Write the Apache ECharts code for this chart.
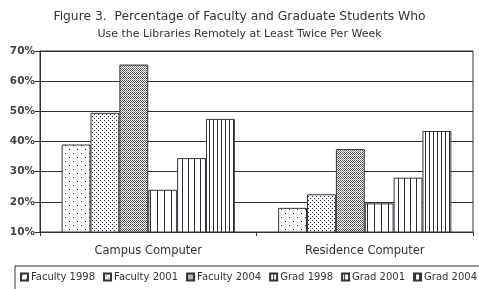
<!DOCTYPE html>
<html>
<head>
<meta charset="utf-8">
<script src="https://cdn.jsdelivr.net/npm/echarts@6/dist/echarts.min.js"></script>
<style>html,body{margin:0;padding:0;background:#fff}#c{width:479px;height:289px}</style>
</head>
<body>
<div id="c"></div>
<script>
const categories = ['Campus Computer', 'Residence Computer'];
const seriesNames = ['Faculty 1998', 'Faculty 2001', 'Faculty 2004', 'Grad 1998', 'Grad 2001', 'Grad 2004'];
const faculty1998 = [39, 18];
const faculty2001 = [49.5, 22.5];
const faculty2004 = [65.5, 37.5];
const grad1998 = [24, 19.5];
const grad2001 = [34.5, 28];
const grad2004 = [47.5, 43.5];
const yTicks = [10, 20, 30, 40, 50, 60, 70];

const INK = '#2b2b35';
function tile(w, h, draw) {
  const c = document.createElement('canvas');
  c.width = w; c.height = h;
  const g = c.getContext('2d');
  g.fillStyle = '#fff'; g.fillRect(0, 0, w, h);
  g.fillStyle = INK;
  draw(g);
  return { image: c, repeat: 'repeat' };
}
const patterns = [
  tile(8, 8, g => { g.fillRect(1, 1, 1, 1); g.fillRect(5, 5, 1, 1); }),
  tile(4, 4, g => { g.fillRect(0, 0, 1, 1); g.fillRect(2, 2, 1, 1); }),
  tile(4, 4, g => { g.fillStyle = '#555'; g.fillRect(0, 0, 1, 1); g.fillRect(2, 0, 1, 1); g.fillRect(1, 1, 1, 1); g.fillRect(3, 1, 1, 1); g.fillRect(0, 2, 1, 1); g.fillRect(2, 2, 1, 1); g.fillStyle = '#888'; g.fillRect(1, 3, 1, 1); g.fillRect(3, 3, 1, 1); }),
  tile(7, 4, g => { g.fillRect(3, 0, 1, 4); }),
  tile(6, 4, g => { g.fillRect(2, 0, 1, 4); }),
  tile(4, 4, g => { g.fillRect(1, 0, 1, 4); }),
];
const values = [faculty1998, faculty2001, faculty2004, grad1998, grad2001, grad2004];

const chart = echarts.init(document.getElementById('c'), null, { renderer: 'canvas' });
const FONT = 'DejaVu Sans';
chart.setOption({
  animation: false,
  backgroundColor: '#fff',
  title: {
    text: 'Figure 3.  Percentage of Faculty and Graduate Students Who',
    subtext: 'Use the Libraries Remotely at Least Twice Per Week',
    left: 'center',
    top: 6,
    itemGap: 6,
    textStyle: { fontFamily: FONT, fontSize: 12.3, fontWeight: 'normal', color: '#333' },
    subtextStyle: { fontFamily: FONT, fontSize: 11, fontWeight: 'normal', color: '#333' }
  },
  grid: { left: 40, right: 6, top: 51, bottom: 57, show: true, borderColor: '#333', borderWidth: 1 },
  legend: {
    data: seriesNames,
    left: 15, top: 266, width: 520,
    padding: [6, 40, 20, 5],
    borderColor: '#333', borderWidth: 1,
    itemWidth: 7, itemHeight: 7, itemGap: 8,
    icon: 'rect',
    textStyle: { fontFamily: FONT, fontSize: 10, color: '#333', padding: [0, 0, 0, -2] }
  },
  xAxis: {
    type: 'category',
    data: categories,
    axisLine: { lineStyle: { color: '#333', width: 1 } },
    axisTick: { show: true, length: 4, lineStyle: { color: '#333' } },
    axisLabel: { fontFamily: FONT, fontSize: 11.5, color: '#333', margin: 13 }
  },
  yAxis: {
    type: 'value',
    min: yTicks[0], max: yTicks[yTicks.length - 1], interval: 10,
    axisLine: { show: true, lineStyle: { color: '#333', width: 1 } },
    axisTick: { show: true, length: 5, lineStyle: { color: '#333' } },
    axisLabel: { fontFamily: FONT, fontSize: 10.5, fontWeight: 'bold', color: '#444', margin: 5, formatter: '{value}%' },
    splitLine: { lineStyle: { color: '#333', width: 1.2 } }
  },
  series: seriesNames.map((name, i) => ({
    name, type: 'bar', data: values[i],
    barGap: '0%', barCategoryGap: '20%',
    itemStyle: { color: patterns[i], borderColor: '#333', borderWidth: 1 }
  }))
});
</script>
</body>
</html>
